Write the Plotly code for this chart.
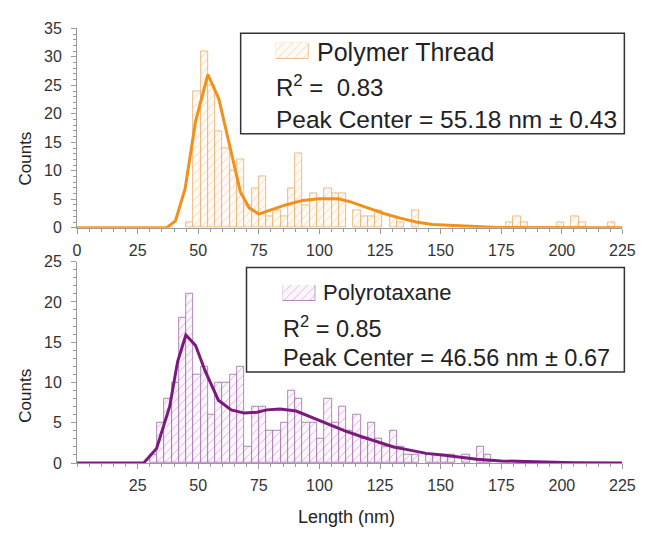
import plotly.graph_objects as go

# ---------------- data ----------------
# Polymer Thread histogram (3 nm bins, left edges) and fitted curve
top_bin_left = [45, 48, 51, 54, 57, 60, 63, 66, 69, 72, 75, 78, 81, 84, 87, 90, 93, 96, 99, 102,
                105, 108, 114, 117, 120, 123, 129, 132, 138, 177, 180, 183, 198, 204, 207, 219]
top_counts = [1, 24, 31, 25, 17, 14, 10, 12, 4, 7, 9, 2, 3, 2, 7, 13, 4, 6, 5, 7,
              6, 6, 3, 2, 2, 3, 2, 1, 3, 1, 2, 1, 1, 2, 1, 1]
top_fit_x = [0, 37, 40.6, 44.6, 48.9, 54, 58.5, 63.6, 67.4, 71, 75, 79.7, 86.4, 93.1, 99.8,
             107.8, 113.2, 119.9, 126.6, 133.3, 139.9, 146.6, 153, 160, 173.4, 185, 200, 225]
top_fit_y = [0, 0, 1.2, 6.9, 18.7, 26.9, 22.6, 13.1, 6.3, 3.5, 2.4, 3.1, 4.05, 4.8, 5.1,
             5.1, 4.5, 3.5, 2.5, 1.7, 1.0, 0.56, 0.4, 0.3, 0.06, 0.02, 0, 0]

# Polyrotaxane histogram and fitted curve
bot_bin_left = [30, 33, 36, 39, 42, 45, 48, 51, 54, 57, 60, 63, 66, 69, 72, 75, 78, 81, 84, 87,
                90, 93, 96, 99, 102, 105, 108, 111, 114, 117, 120, 123, 126, 129, 132, 135, 138,
                144, 147, 150, 153, 159, 165, 168]
bot_counts = [1, 5, 8, 10, 18, 21, 11, 12, 6, 10, 10, 11, 12, 2, 7, 7, 4, 4, 5, 9,
              8, 5, 5, 3, 8, 5, 7, 4, 6, 3, 5, 3, 2, 4, 2, 1, 1,
              1, 1, 1, 1, 1, 2, 1]
bot_fit_x = [0, 27.5, 32.8, 38.2, 41.5, 44.9, 48.9, 52.9, 58.3, 63.6, 69, 74.3, 78.3, 83.7,
             90.4, 97.1, 103.8, 110.5, 117.2, 123.9, 130.6, 137.3, 144, 150.7, 157, 165, 175,
             190, 205, 225]
bot_fit_y = [0, 0, 1.8, 7.0, 12.6, 15.9, 14.6, 11.4, 7.8, 6.6, 6.2, 6.3, 6.6, 6.7,
             6.45, 5.6, 4.8, 4.0, 3.3, 2.6, 2.0, 1.6, 1.2, 1.0, 0.75, 0.48, 0.26,
             0.1, 0.03, 0]

top_xticks = [0, 25, 50, 75, 100, 125, 150, 175, 200, 225]
bot_xticks = [25, 50, 75, 100, 125, 150, 175, 200, 225]
BIN = 3

# ---------------- styling ----------------
W, H = 651, 534
def fx(p):
    return p / W
def fy(p):
    return 1 - p / H

FONT = "Liberation Sans, Arial, sans-serif"
ORANGE = "#f39019"
ORANGE_HATCH = "#e9b075"
ORANGE_EDGE = "#e6ad6c"
PURPLE = "#7a1a7f"
PURPLE_HATCH = "#a872b0"
PURPLE_EDGE = "#a06aa8"
AXIS = "#9a9a9a"

def hatched(fg, edge, bg):
    return dict(color=bg, line=dict(color=edge, width=0.8),
                pattern=dict(shape="/", fgcolor=fg, size=6, solidity=0.15, fillmode="overlay"))

fig = go.Figure()

fig.add_trace(go.Bar(x=[b + BIN / 2 for b in top_bin_left], y=top_counts, width=BIN,
                     marker=hatched(ORANGE_HATCH, ORANGE_EDGE, "#fffaf4"),
                     xaxis="x", yaxis="y", showlegend=False))
fig.add_trace(go.Scatter(x=top_fit_x, y=top_fit_y, mode="lines",
                         line=dict(color=ORANGE, width=3), xaxis="x", yaxis="y",
                         showlegend=False))
fig.add_trace(go.Bar(x=[b + BIN / 2 for b in bot_bin_left], y=bot_counts, width=BIN,
                     marker=hatched(PURPLE_HATCH, PURPLE_EDGE, "#fdf6fd"),
                     xaxis="x2", yaxis="y2", showlegend=False))
fig.add_trace(go.Scatter(x=bot_fit_x, y=bot_fit_y, mode="lines",
                         line=dict(color=PURPLE, width=3), xaxis="x2", yaxis="y2",
                         showlegend=False))

# legend swatches (hatched samples)
fig.add_trace(go.Bar(x=[0], y=[1], width=1, marker=hatched(ORANGE_HATCH, ORANGE_EDGE, "#fffaf4"),
                     xaxis="x3", yaxis="y3", showlegend=False, hoverinfo="skip"))
fig.add_trace(go.Bar(x=[0], y=[1], width=1, marker=hatched(PURPLE_HATCH, PURPLE_EDGE, "#fdf6fd"),
                     xaxis="x4", yaxis="y4", showlegend=False, hoverinfo="skip"))

tickfont = dict(family=FONT, size=16, color="#333333")
common_x = dict(showline=True, linecolor=AXIS, linewidth=1, ticks="outside", ticklen=5,
                tickcolor=AXIS, showgrid=False, zeroline=False, tickfont=tickfont,
                ticklabelstandoff=3, range=[0, 225],
                minor=dict(dtick=5, ticks="outside", ticklen=3, tickcolor=AXIS))
common_y = dict(showline=True, linecolor=AXIS, linewidth=1, ticks="outside", ticklen=5,
                tickcolor=AXIS, showgrid=False, zeroline=False, tickfont=tickfont, dtick=5,
                ticklabelstandoff=6,
                minor=dict(dtick=1, ticks="outside", ticklen=3, tickcolor=AXIS))

XD = [fx(75), fx(635)]
fig.update_layout(
    width=W, height=H, margin=dict(l=0, r=0, t=0, b=0),
    paper_bgcolor="white", plot_bgcolor="rgba(0,0,0,0)",
    barmode="overlay", bargap=0,
    xaxis=dict(domain=XD, anchor="y", tickvals=top_xticks, **common_x),
    yaxis=dict(domain=[fy(227), fy(21)], anchor="x", range=[0, 35], **common_y),
    xaxis2=dict(domain=XD, anchor="y2", tickvals=bot_xticks, **common_x),
    yaxis2=dict(domain=[fy(470), fy(262)], anchor="x2", range=[0, 25], **common_y),
    xaxis3=dict(domain=[fx(279), fx(313)], anchor="y3", range=[-0.5, 0.5], visible=False),
    yaxis3=dict(domain=[fy(53), fy(36)], anchor="x3", range=[0, 1], visible=False),
    xaxis4=dict(domain=[fx(286), fx(320)], anchor="y4", range=[-0.5, 0.5], visible=False),
    yaxis4=dict(domain=[fy(303), fy(286)], anchor="x4", range=[0, 1], visible=False),
)

# legend boxes
fig.add_shape(type="rect", xref="paper", yref="paper", x0=fx(243), x1=fx(637), y0=fy(130), y1=fy(26),
              line=dict(color="#333333", width=1.5), fillcolor="rgba(0,0,0,0)", layer="above")
fig.add_shape(type="rect", xref="paper", yref="paper", x0=fx(249), x1=fx(637), y0=fy(376), y1=fy(268),
              line=dict(color="#333333", width=1.5), fillcolor="rgba(0,0,0,0)", layer="above")

def txt(x, y, s, size=21, anchor="left", angle=0):
    fig.add_annotation(x=fx(x), y=fy(y), xref="paper", yref="paper", text=s, showarrow=False,
                       xanchor=anchor, yanchor="middle", textangle=angle,
                       font=dict(family=FONT, size=size, color="#222222"))

txt(319, 45, "Polymer Thread", size=25)
txt(277, 81, "R<sup>2</sup> =  0.83", size=24)
txt(277, 115, "Peak Center = 55.18 nm ± 0.43", size=24.5)
txt(325, 294, "Polyrotaxane", size=22)
txt(284, 329, "R<sup>2</sup> = 0.85", size=23.5)
txt(284, 361, "Peak Center = 46.56 nm ± 0.67", size=23.5)

txt(22, 155, "Counts", size=17, anchor="center", angle=-90)
txt(22, 400, "Counts", size=17, anchor="center", angle=-90)
txt(352, 526, "Length (nm)", size=18, anchor="center")

fig.write_html("out.html")
